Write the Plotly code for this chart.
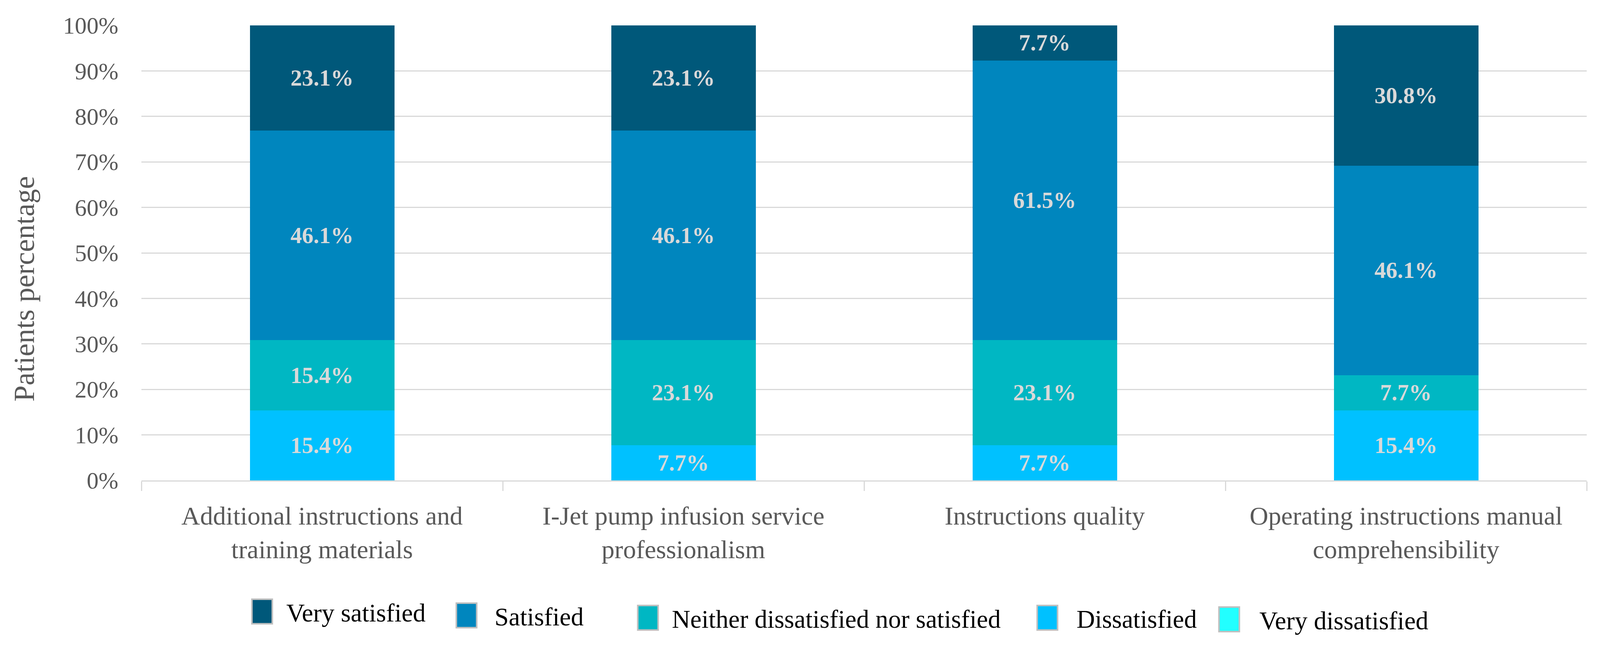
import plotly.graph_objects as go

# ---- data ----
categories = [
    "Additional instructions and<br>training materials",
    "I-Jet pump infusion service<br>professionalism",
    "Instructions quality",
    "Operating instructions manual<br>comprehensibility",
]
series_names = ["Very dissatisfied", "Dissatisfied", "Neither dissatisfied nor satisfied",
                "Satisfied", "Very satisfied"]
very_dissatisfied = [0.0, 0.0, 0.0, 0.0]
dissatisfied = [15.4, 7.7, 7.7, 15.4]
neither = [15.4, 23.1, 23.1, 7.7]
satisfied = [46.1, 46.1, 61.5, 46.1]
very_satisfied = [23.1, 23.1, 7.7, 30.8]
y_ticks = [0, 10, 20, 30, 40, 50, 60, 70, 80, 90, 100]
y_tick_labels = [f"{v}%" for v in y_ticks]
y_title = "Patients percentage"

series_values = [very_dissatisfied, dissatisfied, neither, satisfied, very_satisfied]
colors = ["#22FFFF", "#00C1FF", "#00B7C3", "#0086BE", "#00587A"]

# ---- geometry, in target-picture pixels ----
W, H = 4242, 1668
ML, MR, MT, MB = 375, 35, 65, 437
PW, PH = W - ML - MR, H - MT - MB
SX = 1.037         # observed horizontal page-to-picture scale
SF = 1.02          # font scale compromise
BODY = 8           # default body margin of the page
FONT = "Liberation Serif"


def fs(v):
    return v / SF


def px_x(px):
    return (px - ML) / PW


def px_y(py):
    return (H - MB - py) / PH


fig = go.Figure()
for name, vals, col in zip(series_names, series_values, colors):
    fig.add_trace(go.Bar(
        name=name,
        x=categories,
        y=vals,
        marker=dict(color=col, line=dict(width=0)),
        text=[("" if v == 0 else f"{v:.1f}%") for v in vals],
        textposition="inside",
        insidetextanchor="middle",
        textangle=0,
        constraintext="none",
        textfont=dict(family=FONT, size=fs(60), color="#D9D9D9", weight="bold"),
        showlegend=False,
    ))

# ---- custom legend (order as in reference) ----
legend_order = [4, 3, 2, 1, 0]
sym_x0 = [668, 1210, 1691, 2750, 3232]
sym_yc = [1567, 1577, 1583, 1583, 1587]
text_x0 = [757, 1309, 1779, 2852, 3337]
sym_w, sym_h = 54, 63
for k, idx in enumerate(legend_order):
    x0 = sym_x0[k]
    yc = sym_yc[k]
    fig.add_shape(
        type="rect", xref="paper", yref="paper",
        x0=px_x(x0), x1=px_x(x0 + sym_w),
        y0=px_y(yc + sym_h / 2), y1=px_y(yc - sym_h / 2),
        fillcolor=colors[idx], line=dict(color="#BFBFBF", width=4),
    )
    fig.add_annotation(
        xref="paper", yref="paper", x=px_x(text_x0[k]), y=px_y(yc + 4),
        xanchor="left", yanchor="middle", showarrow=False,
        text=series_names[idx],
        font=dict(family=FONT, size=fs(66.5), color="#000000"),
    )

# ---- y axis title ----
fig.add_annotation(
    xref="paper", yref="paper", x=px_x(64), y=px_y(740),
    xanchor="center", yanchor="middle", showarrow=False, textangle=-90,
    text=y_title, font=dict(family=FONT, size=fs(76), color="#595959"),
)

fig.update_layout(
    autosize=True,
    margin=dict(l=ML / SX - BODY, r=MR / SX - BODY, t=MT - BODY, b=MB - BODY, pad=0),
    barmode="stack",
    bargap=0.6,
    plot_bgcolor="white",
    paper_bgcolor="white",
    font=dict(family=FONT, color="#595959"),
    showlegend=False,
)
fig.update_xaxes(
    showgrid=False,
    showline=True, linecolor="#D9D9D9", linewidth=3,
    ticks="outside", tickson="boundaries", ticklen=24, tickwidth=3, tickcolor="#D9D9D9",
    tickfont=dict(family=FONT, size=fs(67.5), color="#595959"),
    ticklabelstandoff=31,
)
fig.update_yaxes(
    range=[0, 100],
    tickmode="array", tickvals=y_ticks, ticktext=y_tick_labels,
    showgrid=True, gridcolor="#D9D9D9", gridwidth=3,
    showline=False, zeroline=False, ticks="",
    tickfont=dict(family=FONT, size=fs(62), color="#595959"),
    ticklabelstandoff=58,
)

fig.write_html("out.html", default_width="calc(100vw - 16px)", default_height="calc(100vh - 18px)")
